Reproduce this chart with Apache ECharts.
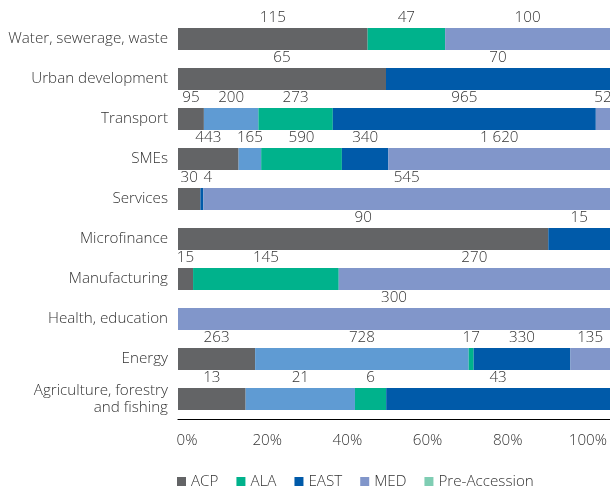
<!DOCTYPE html>
<html>
<head>
<meta charset="utf-8">
<script src="https://cdn.jsdelivr.net/npm/echarts@6/dist/echarts.min.js"></script>
<style>html,body{margin:0;padding:0;background:#fff}#c{width:610px;height:488px}</style>
</head>
<body>
<div id="c"></div>
<script>
var categories = ['Water, sewerage, waste','Urban development','Transport','SMEs','Services','Microfinance','Manufacturing','Health, education','Energy','Agriculture, forestry\nand fishing'];
var acp     = [115, 65, 95, 443, 30, 90, 15, null, 263, 13];
var preAcc  = [null, null, 200, 165, null, null, null, null, 728, 21];
var ala     = [47, null, 273, 590, null, null, 145, null, 17, 6];
var east    = [null, 70, 965, 340, 4, 15, null, null, 330, 43];
var med     = [100, null, 52, 1620, 545, null, 270, 300, 135, null];
var tickLabels = [0, 20, 40, 60, 80, 100];

var seriesDefs = [
  {name:'ACP', data:acp, color:'#636466'},
  {name:'Pre-Accession', data:preAcc, color:'#5f9bd3'},
  {name:'ALA', data:ala, color:'#00b28c'},
  {name:'EAST', data:east, color:'#005aa9'},
  {name:'MED', data:med, color:'#8196ca'}
];
var totals = categories.map(function(c,i){
  var s=0; seriesDefs.forEach(function(d){ if(d.data[i]!=null) s+=d.data[i]; }); return s;
});
function fmt(v){ return String(v).replace(/\B(?=(\d{3})+(?!\d))/g,' '); }
var FONT = 'Open Sans';
var TXT = '#333333';
var FS = 15.2;
var series = seriesDefs.map(function(d){
  return {
    name:d.name, type:'bar', stack:'all', barWidth:22,
    xAxisIndex:0, yAxisIndex:0,
    itemStyle:{color:d.color},
    label:{show:true, position:'top', distance:3, color:TXT, fontSize:FS, fontWeight:300, fontFamily:FONT,
      formatter:function(p){ var v=d.data[p.dataIndex]; return v==null?'':fmt(v); }},
    data:d.data.map(function(v,i){
      if(v==null) return null;
      var item = {value:v/totals[i]*100};
      // tiny segment next to a neighbour: nudge its label right so texts don't collide
      if(v/totals[i] < 0.01) item.label = {offset:[6,0]};
      return item;
    })
  };
});
var chart = echarts.init(document.getElementById('c'));
chart.setOption({
  animation:false,
  textStyle:{fontFamily:FONT},
  grid:[
    {left:178, top:19, width:432, height:400, containLabel:false},
    {left:187, top:19, width:407, height:400, containLabel:false}
  ],
  legend:{
    left:172, top:469, itemWidth:9, itemHeight:9, itemGap:18, icon:'rect',
    textStyle:{fontSize:FS, fontWeight:300, color:TXT, fontFamily:FONT},
    data:['ACP','ALA','EAST','MED',{name:'Pre-Accession', itemStyle:{color:'#7fcdb3'}}]
  },
  xAxis:[
    {type:'value', gridIndex:0, min:0, max:100, interval:20,
      axisLine:{show:true, onZero:false, lineStyle:{color:'#000', width:1.2}},
      axisTick:{show:false}, axisLabel:{show:false}, splitLine:{show:false}},
    {type:'value', gridIndex:1, min:0, max:100, interval:20,
      axisLine:{show:false}, axisTick:{show:false}, splitLine:{show:false},
      axisLabel:{show:true, margin:14, fontSize:FS, fontWeight:300, color:TXT, fontFamily:FONT,
        customValues:tickLabels, formatter:'{value}%'}}
  ],
  yAxis:[
    {type:'category', gridIndex:0, inverse:true, data:categories,
      axisLine:{show:false}, axisTick:{show:false},
      axisLabel:{margin:10, fontSize:FS, fontWeight:300, color:TXT, lineHeight:17, fontFamily:FONT, align:'right'}},
    {type:'value', gridIndex:1, show:false, min:0, max:1}
  ],
  series:series
});
</script>
</body>
</html>
